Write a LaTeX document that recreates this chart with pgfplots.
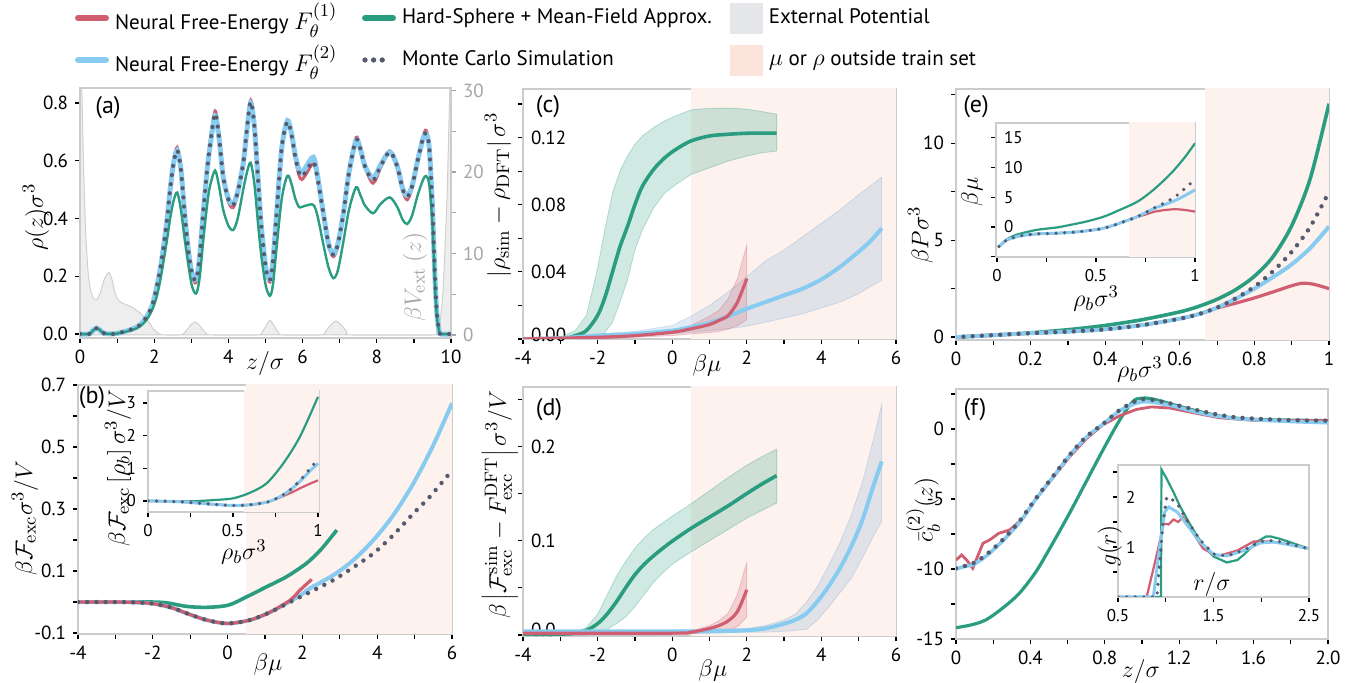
\documentclass[border=0pt]{standalone}
\usepackage[no-math]{fontspec}
\setmainfont{PT Sans}
\usepackage{pgfplots}
\pgfplotsset{compat=1.18}
\usepackage{pgfplotstable}

\definecolor{cred}{RGB}{208,94,112}
\definecolor{cgreen}{RGB}{42,157,128}
\definecolor{cblue}{RGB}{135,203,240}
\definecolor{cblueband}{RGB}{125,170,215}
\definecolor{cmc}{RGB}{85,90,108}
\definecolor{pinkbg}{RGB}{253,242,238}
\definecolor{pinkleg}{RGB}{252,228,220}
\definecolor{grayleg}{RGB}{229,230,233}
\definecolor{axgray}{RGB}{204,204,204}
\definecolor{vgray}{RGB}{238,238,238}
\definecolor{vline}{RGB}{208,208,208}
\definecolor{rgray}{RGB}{165,165,165}

\newcommand{\tickfont}{\fontsize{9.5}{10}\selectfont}
\newcommand{\insetfont}{\fontsize{8.5}{9}\selectfont}
\newcommand{\labfont}{\fontsize{13}{15}\selectfont}
\newcommand{\legfont}{\fontsize{10.5}{12}\selectfont}
\newcommand{\legmath}[1]{{\fontsize{12.5}{14}\selectfont$#1$}}

\pgfplotsset{
  base/.style={scale only axis, anchor=south west,
    axis line style={draw=axgray, line width=1pt},
    tick style={black, line width=0.6pt},
    tick align=outside, tick pos=left,
    major tick length=2.5pt, minor tick length=2.5pt,
    tick label style={font=\tickfont},
    /pgf/number format/assume math mode=true,
    label style={font=\labfont}},
  xl/.style 2 args={xlabel style={at={(axis description cs:#1,#2)}, anchor=center}},
  yl/.style 2 args={ylabel style={at={(axis description cs:#1,#2)}, anchor=center}},
  insidey/.style={yticklabel style={anchor=west, xshift=#1}},
  nn1/.style={cred, line width=1.6pt, smooth},
  nn2/.style={cblue, line width=2.2pt, smooth},
  hs/.style={cgreen, line width=1.6pt, smooth},
  mc/.style={cmc, line width=2.2pt, line cap=round, dash pattern=on 0pt off 4.6pt, smooth},
  band/.style={fill=#1, fill opacity=0.22, draw=#1, draw opacity=0.3, line width=0.4pt},
}

% ---------------- data ----------------
\pgfplotstableread{
z mc nn1 nn2 hs
0.00 0.000 0.000 0.000 0.000
0.25 0.000 0.000 0.000 0.000
0.35 0.012 0.012 0.012 0.012
0.45 0.020 0.020 0.020 0.020
0.55 0.012 0.012 0.012 0.012
0.65 0.002 0.002 0.002 0.002
0.90 0.000 0.000 0.000 0.000
1.10 0.005 0.005 0.005 0.004
1.30 0.012 0.012 0.012 0.010
1.50 0.022 0.022 0.022 0.018
1.65 0.035 0.035 0.035 0.030
1.80 0.060 0.060 0.060 0.050
1.95 0.100 0.100 0.100 0.085
2.07 0.164 0.164 0.164 0.130
2.17 0.230 0.230 0.230 0.190
2.25 0.300 0.300 0.300 0.250
2.35 0.400 0.400 0.400 0.330
2.43 0.500 0.505 0.500 0.400
2.52 0.590 0.598 0.590 0.460
2.62 0.637 0.646 0.635 0.490
2.72 0.570 0.575 0.570 0.430
2.82 0.418 0.418 0.418 0.330
2.92 0.290 0.285 0.290 0.240
3.02 0.210 0.203 0.210 0.165
3.13 0.187 0.178 0.190 0.140
3.22 0.260 0.255 0.262 0.190
3.32 0.418 0.418 0.418 0.320
3.42 0.560 0.565 0.558 0.440
3.50 0.649 0.655 0.645 0.510
3.64 0.764 0.772 0.755 0.566
3.75 0.680 0.685 0.675 0.510
3.86 0.545 0.545 0.545 0.430
4.00 0.465 0.458 0.468 0.375
4.13 0.447 0.438 0.452 0.360
4.25 0.490 0.485 0.492 0.400
4.40 0.591 0.591 0.591 0.500
4.50 0.710 0.712 0.705 0.560
4.60 0.805 0.810 0.800 0.593
4.70 0.720 0.722 0.718 0.520
4.80 0.534 0.534 0.534 0.380
4.87 0.400 0.400 0.400 0.290
4.94 0.303 0.300 0.303 0.220
5.02 0.220 0.215 0.222 0.160
5.12 0.187 0.180 0.190 0.132
5.20 0.250 0.245 0.252 0.170
5.30 0.418 0.418 0.418 0.300
5.44 0.649 0.652 0.645 0.470
5.59 0.735 0.742 0.738 0.548
5.70 0.690 0.690 0.695 0.520
5.80 0.614 0.610 0.620 0.470
5.90 0.560 0.550 0.570 0.440
5.98 0.545 0.535 0.558 0.440
6.10 0.565 0.555 0.580 0.445
6.29 0.597 0.590 0.612 0.447
6.40 0.540 0.535 0.550 0.410
6.56 0.418 0.418 0.418 0.310
6.70 0.310 0.305 0.312 0.230
6.83 0.274 0.268 0.278 0.193
6.95 0.310 0.305 0.312 0.220
7.10 0.418 0.418 0.418 0.320
7.25 0.560 0.562 0.558 0.430
7.44 0.672 0.680 0.670 0.508
7.56 0.640 0.645 0.640 0.480
7.68 0.580 0.578 0.582 0.445
7.90 0.533 0.522 0.540 0.418
8.10 0.580 0.575 0.585 0.450
8.35 0.631 0.635 0.630 0.473
8.55 0.580 0.578 0.582 0.440
8.70 0.500 0.495 0.502 0.395
8.82 0.475 0.465 0.480 0.381
8.95 0.510 0.505 0.512 0.410
9.10 0.600 0.600 0.600 0.480
9.25 0.680 0.685 0.678 0.535
9.33 0.695 0.705 0.692 0.547
9.41 0.650 0.655 0.650 0.520
9.49 0.470 0.470 0.470 0.400
9.53 0.330 0.330 0.330 0.290
9.57 0.190 0.190 0.190 0.160
9.62 0.070 0.070 0.070 0.060
9.68 0.010 0.010 0.010 0.010
9.72 0.000 0.000 0.000 0.000
10.00 0.000 0.000 0.000 0.000
}\tabA

\pgfplotstableread{
z V
0.00 40
0.05 30
0.10 20
0.15 13
0.22 7.6
0.30 5.2
0.38 4.4
0.45 4.3
0.55 5.2
0.65 6.8
0.75 7.6
0.80 7.6
0.88 6.5
0.95 5.0
1.05 4.2
1.20 3.8
1.37 3.5
1.50 3.1
1.62 2.7
1.75 2.1
1.87 1.5
1.95 0.9
2.05 0.4
2.15 0.1
2.30 0.0
2.70 0.0
2.80 0.2
2.90 0.7
3.00 1.3
3.10 1.6
3.20 1.3
3.30 0.7
3.40 0.2
3.55 0.0
4.80 0.0
4.90 0.3
5.00 1.0
5.12 1.8
5.25 1.0
5.35 0.3
5.45 0.0
6.50 0.0
6.60 0.3
6.75 1.2
6.90 1.7
7.05 1.2
7.20 0.3
7.30 0.0
9.50 0.0
9.60 0.5
9.70 1.5
9.78 5
9.84 10.8
9.90 18
9.95 27
10.00 35
}\tabV

\pgfplotstableread{
x mean
-4 0
-3 0
-2.6 0.002
-2.3 0.005
-2.0 0.014
-1.8 0.025
-1.6 0.040
-1.4 0.055
-1.2 0.067
-1.0 0.080
-0.8 0.091
-0.5 0.101
-0.2 0.108
0.1 0.113
0.5 0.118
1.0 0.121
1.5 0.122
2.0 0.1226
2.4 0.1227
2.8 0.1227
}\tabCg
\pgfplotstableread{
x mean
-4 0
-3 0.0005
-2 0.002
-1 0.003
0 0.005
0.5 0.007
1.0 0.0096
1.5 0.0135
2.0 0.018
2.5 0.022
3.0 0.026
3.5 0.030
4.0 0.0355
4.5 0.043
5.0 0.052
5.3 0.058
5.62 0.066
}\tabCb
\pgfplotstableread{
x mean
-4 0
-2 0.001
-1 0.002
0 0.004
0.5 0.006
1.0 0.0086
1.25 0.011
1.5 0.014
1.75 0.022
2.0 0.036
}\tabCr
\pgfplotstableread{
x mean
-4 0.001
-3 0.001
-2.6 0.002
-2.3 0.005
-2.0 0.012
-1.75 0.022
-1.5 0.035
-1.25 0.050
-1.0 0.064
-0.75 0.075
-0.5 0.084
-0.25 0.092
0.0 0.0995
0.5 0.113
1.0 0.125
1.5 0.137
2.0 0.150
2.4 0.160
2.8 0.169
}\tabDg
\pgfplotstableread{
x mean
-4 0.004
0 0.004
1 0.004
2 0.005
2.5 0.007
3.0 0.012
3.3 0.016
3.6 0.023
3.9 0.036
4.2 0.052
4.5 0.071
4.8 0.094
5.1 0.122
5.4 0.159
5.62 0.184
}\tabDb
\pgfplotstableread{
x mean
-4 0.002
0 0.002
0.5 0.003
1.0 0.007
1.25 0.010
1.5 0.015
1.75 0.025
2.0 0.048
}\tabDr

\begin{document}
\begin{tikzpicture}
\useasboundingbox (0pt,0pt) rectangle (682.5pt,341.5pt);

% ---------------- legend ----------------
\begin{axis}[hide axis, scale only axis, anchor=south west, at={(0pt,0pt)},
  width=682.5pt, height=341.5pt, xmin=0, xmax=1, ymin=0, ymax=1,
  legend columns=3, legend cell align=left,
  legend style={at={(axis description cs:0.05495,0.9429)}, anchor=west,
    draw=none, fill=none, inner sep=0pt, outer sep=0pt, font=\legfont,
    row sep=0pt, column sep=0pt,
    nodes={inner sep=0pt, minimum height=21pt},
    /tikz/column 1/.style={column sep=3pt},
    /tikz/column 3/.style={column sep=3pt},
    /tikz/column 5/.style={column sep=3pt}}]
\addlegendimage{legend image code/.code={\draw[cred, line width=3pt, line cap=round] (1.5pt,0pt) -- (15.5pt,0pt);}}
\addlegendentry{\makebox[123.5pt][l]{Neural Free-Energy \legmath{F_\theta^{(1)}}}}
\addlegendimage{legend image code/.code={\draw[cgreen, line width=3pt, line cap=round] (1.5pt,0pt) -- (15.5pt,0pt);}}
\addlegendentry{\makebox[164pt][l]{Hard-Sphere + Mean-Field Approx.}}
\addlegendimage{legend image code/.code={\fill[grayleg] (0pt,-7.5pt) rectangle (16pt,7.5pt);}}
\addlegendentry{\makebox[110pt][l]{External Potential}}
\addlegendimage{legend image code/.code={\draw[cblue, line width=3pt, line cap=round] (1.5pt,0pt) -- (15.5pt,0pt);}}
\addlegendentry{\makebox[123.5pt][l]{Neural Free-Energy \legmath{F_\theta^{(2)}}}}
\addlegendimage{legend image code/.code={\fill[cmc] (1.5pt,0pt) circle[radius=1.1pt] (5.8pt,0pt) circle[radius=1.1pt] (10.1pt,0pt) circle[radius=1.1pt];}}
\addlegendentry{\makebox[164pt][l]{Monte Carlo Simulation}}
\addlegendimage{legend image code/.code={\fill[pinkleg] (0pt,-7.5pt) rectangle (16pt,7.5pt);}}
\addlegendentry{\makebox[110pt][l]{\legmath{\mu} or \legmath{\rho} outside train set}}
\end{axis}

% ---------------- (a) external potential ----------------
\begin{axis}[base, at={(40pt,172.5pt)}, width=185.5pt, height=125pt,
  xmin=0, xmax=10, ymin=-0.37, ymax=30.3,
  axis x line=none, axis y line*=right, ytick pos=right,
  ytick={0,10,20,30}, minor ytick={5,15,25},
  yticklabel style={rgray}, tick style={rgray},
  ylabel={$\beta V_{\mathrm{ext}}\left(z\right)$},
  ylabel style={rgray}, yl={0.903}{0.244}]
\addplot[fill=vgray, draw=vline, line width=0.5pt, smooth, tension=0.4] table[x=z,y=V]{\tabV} \closedcycle;
\end{axis}

% ---------------- (a) density ----------------
\begin{axis}[base, at={(40pt,172.5pt)}, width=185.5pt, height=125pt,
  xmin=0, xmax=10, ymin=-0.014, ymax=0.852,
  xtick={0,2,4,6,8,10}, minor xtick={1,3,5,7,9},
  ytick={0,0.2,0.4,0.6,0.8}, yticklabels={0.0,0.2,0.4,0.6,0.8},
  xlabel={$z/\sigma$}, ylabel={$\rho(z)\sigma^3$},
  xl={0.499}{-0.104}, yl={-0.119}{0.484}]
\addplot[nn1, line width=1.5pt] table[x=z,y=nn1]{\tabA};
\addplot[nn2, line width=2.5pt] table[x=z,y=nn2]{\tabA};
\addplot[hs, line width=1.2pt] table[x=z,y=hs]{\tabA};
\addplot[mc, line width=2.1pt] table[x=z,y=mc]{\tabA};
\end{axis}
\node[font=\fontsize{12}{14}\selectfont] at (54pt,287.5pt) {(a)};

% ---------------- (c) ----------------
\begin{axis}[base, at={(261.5pt,172pt)}, width=186.5pt, height=125pt,
  xmin=-4, xmax=6, ymin=0, ymax=0.149,
  xtick={-4,-2,0,2,4,6}, minor xtick={-3,-1,1,3,5},
  ytick={0,0.04,0.08,0.12}, minor ytick={0.02,0.06,0.10,0.14},
  yticklabels={\raisebox{4.5pt}{0.00},0.04,0.08,0.12}, insidey=3pt,
  xlabel={$\beta\mu$}, ylabel={$\left|\rho_{\mathrm{sim}}-\rho_{\mathrm{DFT}}\right|\sigma^3$},
  xl={0.493}{-0.106}, yl={-0.067}{0.576}]
\addplot[draw=none, fill=pinkbg] coordinates {(0.5,-1) (6,-1) (6,1) (0.5,1)};
\addplot[band=cgreen] coordinates {(-4,0) (-3,0.001) (-2.6,0.005) (-2.3,0.014) (-2.0,0.042) (-1.8,0.066) (-1.6,0.087) (-1.4,0.100) (-1.2,0.109) (-1.0,0.116) (-0.8,0.121) (-0.5,0.126) (-0.2,0.130) (0.1,0.133) (0.5,0.1365) (1.0,0.1375) (1.5,0.1376) (2.0,0.137) (2.4,0.1355) (2.8,0.134) (2.8,0.112) (2.4,0.111) (2.0,0.109) (1.5,0.106) (1.0,0.102) (0.5,0.098) (0.1,0.092) (-0.2,0.087) (-0.5,0.078) (-0.8,0.065) (-1.0,0.053) (-1.2,0.035) (-1.4,0.022) (-1.6,0.010) (-1.8,0.004) (-2.0,0.001) (-2.3,0) (-2.6,0) (-3,0) (-4,0)};
\addplot[band=cblueband] coordinates {(-4,0) (-3,0.001) (-2,0.003) (-1,0.0045) (0,0.008) (0.5,0.0135) (1.0,0.020) (1.5,0.028) (2.0,0.037) (2.5,0.0465) (3.0,0.053) (3.5,0.061) (4.0,0.069) (4.5,0.077) (5.0,0.086) (5.3,0.091) (5.62,0.0965) (5.62,0.035) (5.3,0.031) (5.0,0.027) (4.5,0.022) (4.0,0.0185) (3.5,0.015) (3.0,0.0125) (2.5,0.010) (2.0,0.0076) (1.5,0.0062) (1.0,0.005) (0.5,0.004) (0,0.003) (-1,0.002) (-2,0.001) (-3,0) (-4,0)};
\addplot[band=cred] coordinates {(-4,0) (-2,0.001) (-1,0.003) (0,0.005) (0.5,0.008) (1.0,0.0135) (1.25,0.017) (1.5,0.024) (1.75,0.036) (2.0,0.056) (2.0,0.0116) (1.75,0.008) (1.5,0.0058) (1.25,0.0045) (1.0,0.0038) (0.5,0.003) (0,0.002) (-1,0.001) (-2,0) (-4,0)};
\addplot[hs, line width=1.8pt] table[x=x,y=mean]{\tabCg};
\addplot[nn2, line width=2pt] table[x=x,y=mean]{\tabCb};
\addplot[nn1, line width=1.6pt] table[x=x,y=mean]{\tabCr};
\end{axis}
\node[font=\fontsize{12}{14}\selectfont] at (274pt,288pt) {(c)};

% ---------------- (e) ----------------
\begin{axis}[base, at={(478pt,171.5pt)}, width=186.5pt, height=125.5pt,
  xmin=0, xmax=1, ymin=-0.15, ymax=12.8,
  xtick={0,0.2,0.4,0.6,0.8,1}, xticklabels={0,0.2,0.4,0.6,0.8,1},
  minor xtick={0.1,0.3,0.5,0.7,0.9},
  ytick={0,5,10}, minor ytick={2.5,7.5,12.5},
  xlabel={$\rho_b\sigma^3$}, ylabel={$\beta P\sigma^3$},
  xl={0.493}{-0.118}, yl={-0.095}{0.418}]
\addplot[draw=none, fill=pinkbg] coordinates {(0.667,-1) (1,-1) (1,20) (0.667,20)};
\addplot[hs, line width=1.8pt] coordinates {(0,0) (0.1,0.1) (0.2,0.22) (0.3,0.38) (0.4,0.6) (0.5,0.9) (0.6,1.3) (0.65,1.58) (0.7,1.95) (0.75,2.45) (0.8,3.14) (0.85,4.15) (0.9,5.75) (0.95,8.2) (1.0,12.04)};
\addplot[nn1, line width=1.6pt] coordinates {(0,0) (0.05,0.05) (0.1,0.1) (0.2,0.2) (0.3,0.28) (0.4,0.4) (0.5,0.62) (0.6,0.95) (0.65,1.18) (0.7,1.5) (0.75,1.75) (0.8,2.02) (0.85,2.33) (0.9,2.65) (0.93,2.78) (0.96,2.72) (1.0,2.5)};
\addplot[nn2, line width=2pt] coordinates {(0,0) (0.05,0.05) (0.1,0.1) (0.2,0.2) (0.3,0.28) (0.4,0.4) (0.5,0.62) (0.6,0.95) (0.65,1.18) (0.7,1.52) (0.75,1.98) (0.8,2.5) (0.85,3.1) (0.9,3.75) (0.95,4.6) (1.0,5.7)};
\addplot[mc] coordinates {(0.02,0.02) (0.05,0.05) (0.1,0.1) (0.2,0.2) (0.3,0.28) (0.4,0.4) (0.5,0.62) (0.6,0.95) (0.65,1.18) (0.7,1.52) (0.75,2.0) (0.8,2.6) (0.85,3.4) (0.9,4.4) (0.95,5.7) (1.0,7.5)};
\end{axis}
\node[font=\fontsize{12}{14}\selectfont] at (488pt,288pt) {(e)};

% (e) inset
\begin{axis}[base, at={(498pt,213pt)}, width=99.5pt, height=67pt,
  axis background/.style={fill=white},
  xmin=-0.005, xmax=1, ymin=-5.06, ymax=17.5,
  xtick={0,0.5,1}, xticklabels={0,0.5,1}, minor xtick={0.25,0.75},
  ytick={-5,0,5,10,15}, yticklabels={,0,5,10,15}, insidey=3pt,
  tick label style={font=\insetfont},
  xlabel={$\rho_b\sigma^3$}, ylabel={$\beta\mu$},
  xl={0.503}{-0.31}, yl={-0.121}{0.485}]
\addplot[draw=none, fill=pinkbg] coordinates {(0.667,-10) (1,-10) (1,20) (0.667,20)};
\addplot[hs, line width=1.1pt] coordinates {(0.01,-3.3) (0.05,-2.1) (0.1,-1.3) (0.2,-0.5) (0.3,-0.1) (0.37,0.34) (0.45,0.9) (0.54,1.74) (0.62,2.87) (0.71,4.27) (0.79,6.24) (0.88,9.06) (0.95,11.8) (1.0,14.1)};
\addplot[nn1, line width=1.1pt] coordinates {(0.01,-3.3) (0.03,-2.7) (0.05,-2.2) (0.1,-1.63) (0.15,-1.35) (0.2,-1.18) (0.3,-1.05) (0.4,-0.85) (0.5,-0.45) (0.55,-0.12) (0.6,0.4) (0.65,1.0) (0.7,1.6) (0.75,2.1) (0.8,2.6) (0.85,2.85) (0.9,2.98) (0.95,2.85) (1.0,2.58)};
\addplot[nn2, line width=1.5pt] coordinates {(0.01,-3.3) (0.03,-2.7) (0.05,-2.2) (0.1,-1.63) (0.15,-1.35) (0.2,-1.18) (0.3,-1.05) (0.4,-0.85) (0.5,-0.45) (0.55,-0.12) (0.6,0.4) (0.65,1.0) (0.7,1.6) (0.75,2.4) (0.8,3.2) (0.85,3.8) (0.9,4.45) (0.95,5.3) (1.0,6.24)};
\addplot[mc, line width=1.8pt, dash pattern=on 0pt off 4.3pt] coordinates {(0.01,-3.3) (0.03,-2.7) (0.05,-2.2) (0.1,-1.63) (0.15,-1.35) (0.2,-1.18) (0.3,-1.05) (0.4,-0.85) (0.5,-0.45) (0.55,-0.12) (0.6,0.4) (0.65,1.0) (0.7,1.6) (0.75,2.4) (0.8,3.3) (0.85,4.1) (0.9,5.1) (0.95,6.5) (1.0,8.0)};
\end{axis}

% ---------------- (b) ----------------
\begin{axis}[base, at={(39pt,24.5pt)}, width=187pt, height=124.5pt,
  xmin=-4, xmax=6, ymin=-0.103, ymax=0.7,
  xtick={-4,-2,0,2,4,6}, minor xtick={-3,-1,1,3,5},
  ytick={-0.1,0.1,0.3,0.5,0.7}, yticklabels={-0.1,0.1,0.3,0.5,0.7},
  minor ytick={0,0.2,0.4,0.6},
  xlabel={$\beta\mu$}, ylabel={$\beta\mathcal{F}_{\mathrm{exc}}\sigma^3/V$},
  xl={0.508}{-0.124}, yl={-0.142}{0.466}]
\addplot[draw=none, fill=pinkbg] coordinates {(0.5,-1) (6,-1) (6,1) (0.5,1)};
\addplot[hs, line width=1.8pt] coordinates {(-4,0) (-3,0) (-2,0) (-1.6,-0.003) (-1.1,-0.014) (-0.56,-0.017) (0.02,-0.01) (0.51,0.017) (1.04,0.049) (1.58,0.082) (2.11,0.125) (2.5,0.17) (2.92,0.232)};
\addplot[nn2, line width=2pt] coordinates {(-4,0) (-3.5,0) (-3,0) (-2.5,-0.001) (-2,-0.005) (-1.5,-0.018) (-1.1,-0.036) (-0.56,-0.058) (0,-0.069) (0.6,-0.058) (1.13,-0.033) (1.67,0.002) (2.0,0.026) (2.2,0.044) (2.83,0.087) (3.36,0.135) (3.9,0.2) (4.43,0.28) (4.97,0.383) (5.5,0.506) (6.0,0.641)};
\addplot[nn1, line width=1.6pt] coordinates {(-4,0) (-3.5,0) (-3,0) (-2.5,-0.001) (-2,-0.005) (-1.5,-0.018) (-1.1,-0.036) (-0.56,-0.058) (0,-0.069) (0.6,-0.058) (1.13,-0.033) (1.67,0.006) (1.94,0.039) (2.25,0.073)};
\addplot[mc] coordinates {(-4,0) (-3.5,0) (-3,0) (-2.5,-0.001) (-2,-0.005) (-1.5,-0.018) (-1.1,-0.036) (-0.56,-0.058) (0,-0.069) (0.6,-0.058) (1.13,-0.033) (1.67,0.0) (2.2,0.032) (2.83,0.071) (3.36,0.112) (3.9,0.157) (4.43,0.216) (4.97,0.286) (5.41,0.34) (5.9,0.41)};
\end{axis}
\node[font=\fontsize{12}{14}\selectfont] at (46pt,142.5pt) {(b)};

% (b) inset
\begin{axis}[base, at={(74pt,85.5pt)}, width=85.5pt, height=60.5pt,
  axis background/.style={fill=white},
  xmin=0, xmax=1.006, ymin=-0.34, ymax=3.37,
  xtick={0,0.5,1}, xticklabels={0,0.5,1}, minor xtick={0.25,0.75},
  ytick={0,1,2,3},
  tick label style={font=\insetfont},
  xlabel={$\rho_b\sigma^3$}, ylabel={$\beta\mathcal{F}_{\mathrm{exc}}\left[\rho_b\right]\sigma^3/V$},
  xl={0.561}{-0.33}, yl={-0.175}{0.364}]
\addplot[draw=none, fill=pinkbg] coordinates {(0.565,-1) (1.1,-1) (1.1,4) (0.565,4)};
\addplot[hs, line width=1.1pt] coordinates {(0,0) (0.1,-0.01) (0.2,-0.02) (0.306,0.0) (0.4,0.03) (0.502,0.08) (0.6,0.25) (0.698,0.54) (0.796,1.15) (0.894,1.97) (1.0,3.19)};
\addplot[nn1, line width=1.1pt] coordinates {(0,0) (0.1,-0.01) (0.2,-0.03) (0.3,-0.07) (0.4,-0.11) (0.5,-0.14) (0.6,-0.12) (0.7,-0.04) (0.75,0.05) (0.8,0.16) (0.85,0.27) (0.9,0.40) (0.95,0.52) (1.0,0.63)};
\addplot[nn2, line width=1.5pt] coordinates {(0,0) (0.1,-0.01) (0.2,-0.03) (0.3,-0.07) (0.4,-0.11) (0.5,-0.14) (0.6,-0.12) (0.7,-0.04) (0.75,0.06) (0.8,0.2) (0.85,0.39) (0.9,0.63) (0.95,0.9) (1.0,1.15)};
\addplot[mc, line width=1.8pt, dash pattern=on 0pt off 4.3pt] coordinates {(0,0) (0.1,-0.01) (0.2,-0.03) (0.3,-0.07) (0.4,-0.11) (0.5,-0.14) (0.6,-0.12) (0.7,-0.04) (0.75,0.06) (0.8,0.2) (0.85,0.4) (0.9,0.66) (0.95,0.97) (1.0,1.28)};
\end{axis}

% ---------------- (d) ----------------
\begin{axis}[base, at={(261.5pt,23.5pt)}, width=186.5pt, height=124.5pt,
  xmin=-4, xmax=6, ymin=-0.001, ymax=0.263,
  xtick={-4,-2,0,2,4,6}, minor xtick={-3,-1,1,3,5},
  ytick={0,0.1,0.2}, minor ytick={0.05,0.15,0.25},
  yticklabels={\raisebox{5.5pt}{0.0},0.1,0.2}, insidey=3pt,
  xlabel={$\beta\mu$},
  ylabel={$\beta\left|\mathcal{F}^{\mathrm{sim}}_{\mathrm{exc}}-F^{\mathrm{DFT}}_{\mathrm{exc}}\right|\sigma^3/V$},
  xl={0.509}{-0.14}, yl={-0.062}{0.526}]
\addplot[draw=none, fill=pinkbg] coordinates {(0.5,-1) (6,-1) (6,1) (0.5,1)};
\addplot[band=cgreen] coordinates {(-4,0.001) (-3,0.002) (-2.6,0.003) (-2.3,0.008) (-2.0,0.022) (-1.75,0.042) (-1.5,0.062) (-1.25,0.078) (-1.0,0.092) (-0.75,0.103) (-0.5,0.112) (-0.25,0.119) (0,0.126) (0.5,0.139) (1.0,0.153) (1.5,0.167) (2.0,0.180) (2.4,0.189) (2.8,0.197) (2.8,0.140) (2.4,0.132) (2.0,0.124) (1.5,0.112) (1.0,0.100) (0.5,0.088) (0,0.075) (-0.25,0.066) (-0.5,0.056) (-0.75,0.043) (-1.0,0.030) (-1.25,0.019) (-1.5,0.012) (-1.75,0.006) (-2.0,0.002) (-2.3,0) (-2.6,0) (-3,0) (-4,0)};
\addplot[band=cblueband] coordinates {(-4,0.005) (0,0.005) (1,0.006) (2,0.007) (2.5,0.010) (3.0,0.016) (3.3,0.022) (3.6,0.035) (3.9,0.052) (4.2,0.074) (4.5,0.098) (4.8,0.127) (5.1,0.162) (5.4,0.208) (5.62,0.245) (5.62,0.121) (5.4,0.105) (5.1,0.082) (4.8,0.060) (4.5,0.045) (4.2,0.030) (3.9,0.016) (3.6,0.006) (3.3,0.005) (3.0,0.004) (2.5,0.003) (2,0.003) (1,0.002) (0,0.002) (-4,0.002)};
\addplot[band=cred] coordinates {(-4,0.002) (0,0.003) (0.5,0.004) (1.0,0.010) (1.25,0.015) (1.5,0.023) (1.75,0.043) (2.0,0.077) (2.0,0.019) (1.75,0.009) (1.5,0.005) (1.25,0.004) (1.0,0.003) (0.5,0.001) (0,0.0005) (-4,0)};
\addplot[hs, line width=1.8pt] table[x=x,y=mean]{\tabDg};
\addplot[nn2, line width=2pt] table[x=x,y=mean]{\tabDb};
\addplot[nn1, line width=1.6pt] table[x=x,y=mean]{\tabDr};
\end{axis}
\node[font=\fontsize{12}{14}\selectfont] at (274.5pt,136.5pt) {(d)};

% ---------------- (f) ----------------
\begin{axis}[base, at={(478pt,22pt)}, width=186pt, height=125pt,
  xmin=0, xmax=2, ymin=-15, ymax=2.86,
  xtick={0,0.4,0.8,1.2,1.6,2.0}, xticklabels={0,0.4,0.8,1.2,1.6,2.0},
  minor xtick={0.2,0.6,1.0,1.4,1.8},
  ytick={-15,-10,-5,0}, minor ytick={-12.5,-7.5,-2.5,2.5},
  xlabel={$z/\sigma$}, ylabel={$\bar{c}_b^{(2)}(z)$},
  xl={0.497}{-0.132}, yl={-0.088}{0.516}]
\addplot[hs, line width=1.6pt] coordinates {(0,-14.19) (0.08,-14.0) (0.16,-13.64) (0.25,-12.8) (0.34,-11.74) (0.43,-10.19) (0.52,-8.16) (0.61,-6.02) (0.70,-3.76) (0.79,-1.5) (0.88,0.64) (0.95,1.95) (0.99,2.19) (1.06,2.14) (1.24,1.48) (1.42,0.93) (1.6,0.69) (2.0,0.6)};
\addplot[cred, line width=1.4pt] coordinates {(0,-9.36) (0.03,-9.0) (0.06,-9.4) (0.09,-9.95) (0.145,-8.16) (0.18,-7.93) (0.23,-7.45) (0.29,-7.2) (0.36,-6.38) (0.43,-5.0) (0.52,-3.5) (0.61,-2.0) (0.70,-0.7) (0.79,0.3) (0.88,0.95) (0.97,1.4) (1.05,1.58) (1.15,1.5) (1.3,1.1) (1.42,0.8) (1.6,0.62) (2.0,0.6)};
\addplot[nn2, line width=1.8pt] coordinates {(0,-10.0) (0.05,-9.8) (0.09,-9.7) (0.16,-9.1) (0.25,-8.0) (0.34,-6.7) (0.43,-5.0) (0.52,-3.45) (0.61,-1.9) (0.70,-0.6) (0.79,0.35) (0.88,1.3) (0.97,1.85) (1.03,1.95) (1.15,1.7) (1.33,1.1) (1.51,0.75) (1.78,0.55) (2.0,0.45)};
\addplot[mc] coordinates {(0,-9.95) (0.09,-9.6) (0.16,-9.0) (0.25,-7.93) (0.34,-6.6) (0.43,-4.95) (0.52,-3.4) (0.61,-1.86) (0.70,-0.55) (0.79,0.36) (0.88,1.36) (0.97,2.02) (1.03,2.12) (1.15,1.83) (1.33,1.24) (1.51,0.83) (1.78,0.64) (2.0,0.6)};
\end{axis}
\node[font=\fontsize{12}{14}\selectfont] at (487.5pt,136.5pt) {(f)};

% (f) inset
\begin{axis}[base, at={(559pt,43pt)}, width=95.5pt, height=66pt,
  axis background/.style={fill=white},
  xmin=0.5, xmax=2.5, ymin=0, ymax=2.64,
  xtick={0.5,1.5,2.5}, xticklabels={0.5,1.5,2.5}, minor xtick={1,2},
  ytick={0.5,1,1.5,2,2.5}, yticklabels={,1,,2,}, insidey=3pt,
  tick label style={font=\insetfont},
  xlabel={$r/\sigma$}, ylabel={$g(r)$},
  xl={0.492}{0.098}, yl={-0.042}{0.386}]
\addplot[cgreen, line width=1.1pt] coordinates {(0.5,0) (0.95,0) (0.955,2.55) (1.0,2.4) (1.08,2.1) (1.15,1.81) (1.24,1.5) (1.33,1.21) (1.42,0.98) (1.5,0.81) (1.64,0.69) (1.75,0.74) (1.82,0.85) (1.95,1.1) (2.05,1.21) (2.1,1.21) (2.2,1.16) (2.28,1.11) (2.49,0.97)};
\addplot[cred, line width=1.1pt] coordinates {(0.5,0) (0.8,0) (0.9,0.8) (0.98,1.47) (1.03,1.45) (1.08,1.55) (1.13,1.5) (1.18,1.6) (1.28,1.3) (1.39,0.97) (1.5,0.85) (1.57,0.83) (1.75,0.93) (1.92,1.11) (2.1,1.11) (2.3,1.05) (2.49,0.97)};
\addplot[cblue, line width=1.5pt] coordinates {(0.5,0) (0.87,0) (0.95,1.2) (0.99,1.7) (1.03,1.8) (1.12,1.7) (1.22,1.45) (1.36,1.1) (1.5,0.85) (1.64,0.82) (1.82,0.93) (1.99,1.08) (2.13,1.1) (2.28,1.05) (2.49,0.97)};
\addplot[cmc, line width=1.8pt, line cap=round, dash pattern=on 0pt off 4.3pt] coordinates {(0.5,0) (0.907,0) (0.97,1.47) (1.01,2.0) (1.06,1.96) (1.12,1.87) (1.22,1.54) (1.36,1.14) (1.5,0.86) (1.64,0.82) (1.82,0.94) (1.99,1.11) (2.13,1.13) (2.28,1.07) (2.49,0.97)};
\end{axis}

\end{tikzpicture}
\end{document}
